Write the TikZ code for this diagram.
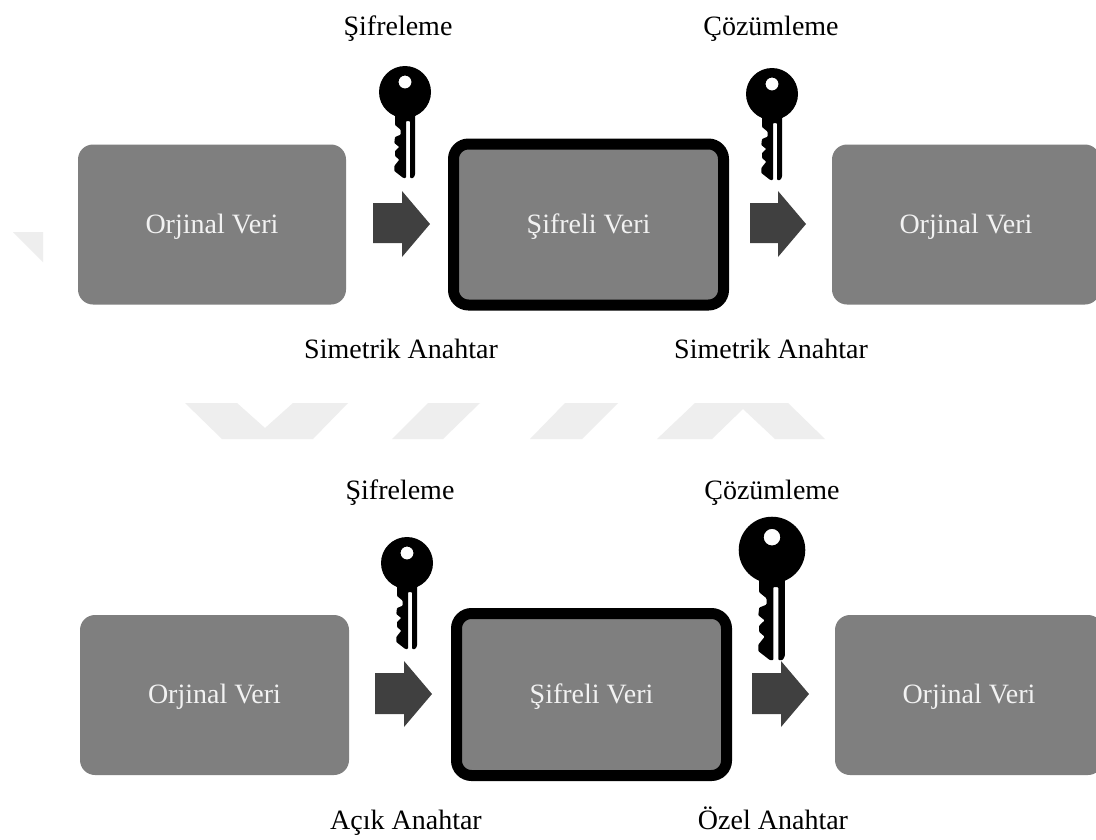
\documentclass[tikz,border=0pt]{standalone}
\usepackage{fontspec}
\setmainfont{Liberation Serif}
\definecolor{boxgrey}{HTML}{7F7F7F}
\definecolor{arrowgrey}{HTML}{404040}
\definecolor{markgrey}{HTML}{EEEEEE}
\definecolor{boxtext}{HTML}{F2F2F2}
\tikzset{
  x=1pt,y=-1pt,
  plainbox/.style={fill=boxgrey,rounded corners=15pt,inner sep=0pt,text=boxtext,
    font=\fontsize{28}{30}\selectfont,text height=23pt,text depth=6pt,align=center},
  framedbox/.style={plainbox,draw=black,line width=11pt},
  caption/.style={anchor=base,inner sep=0pt,text=black,font=\fontsize{28}{30}\selectfont},
  blockarrow/.style={fill=arrowgrey},
  faintmark/.style={fill=markgrey},
  keyshape/.pic={
    \fill[black,even odd rule] (0,0) circle[radius=26] (0,-10) circle[radius=6.5];
    \fill[black,rounded corners=0.8pt]
      (-10,20) -- (-10,33) -- (-4.3,37.7) -- (-4.3,42.7) -- (-10,45) -- (-10.7,51)
      -- (-5.7,55) -- (-10,59) -- (-10,64) -- (-5.7,67.7) -- (-10.7,74) -- (-10.7,79)
      -- (-1.7,86) -- (1,86) -- (1,29) -- (5,29) -- (5,86) -- (8.3,86) -- (10,83)
      -- (10,20) -- cycle;
  }
}
\begin{document}
\begin{tikzpicture}
\useasboundingbox (0,0) rectangle (1096,839);
\fill[white] (0,0) rectangle (1096,839);
% faint background marks
\fill[faintmark] (13,232) -- (43,232) -- (43,262) -- cycle;
\fill[faintmark] (185,403) -- (237,403) -- (265,428) -- (293,403) -- (348,403) -- (313,439) -- (222,439) -- cycle;
\fill[faintmark] (428,403) -- (480,403) -- (443,439) -- (392,439) -- cycle;
\fill[faintmark] (565,403) -- (618,403) -- (582,439) -- (530,439) -- cycle;
\fill[faintmark] (695,403) -- (788,403) -- (825,439) -- (775,439) -- (743,409) -- (712,439) -- (657,439) -- cycle;
% top row
\node[plainbox,minimum width=268pt,minimum height=160pt] (a1) at (212,224.5) {Orjinal Veri};
\node[framedbox,minimum width=270pt,minimum height=161pt] (b1) at (588.5,224.5) {Şifreli Veri};
\node[plainbox,minimum width=268pt,minimum height=160pt] (c1) at (966,224.5) {Orjinal Veri};
% bottom row
\node[plainbox,minimum width=269pt,minimum height=160pt] (a2) at (214.5,695) {Orjinal Veri};
\node[framedbox,minimum width=270pt,minimum height=162pt] (b2) at (591.5,694.5) {Şifreli Veri};
\node[plainbox,minimum width=268pt,minimum height=160pt] (c2) at (969,695) {Orjinal Veri};
% block arrows
\fill[blockarrow] (373,203) -- (402,203) -- (402,191) -- (430,224) -- (402,257) -- (402,243) -- (373,243) -- cycle;
\fill[blockarrow] (750,203) -- (778,203) -- (778,191) -- (806,224) -- (778,257) -- (778,243) -- (750,243) -- cycle;
\fill[blockarrow] (375,673) -- (404,673) -- (404,661) -- (432,694) -- (404,727) -- (404,714) -- (375,714) -- cycle;
\fill[blockarrow] (752,673) -- (781,673) -- (781,661) -- (809,694) -- (781,727) -- (781,714) -- (752,714) -- cycle;
% keys
\pic at (405,92) {keyshape};
\pic at (772,94) {keyshape};
\pic at (407,563) {keyshape};
\pic[scale=1.28] at (772,550) {keyshape};
% captions
\node[caption] (t1) at (398,35) {Şifreleme};
\node[caption] (t2) at (771,35) {Çözümleme};
\node[caption] (t3) at (401,358) {Simetrik Anahtar};
\node[caption] (t4) at (771,358) {Simetrik Anahtar};
\node[caption] (t5) at (400,499) {Şifreleme};
\node[caption] (t6) at (772,499) {Çözümleme};
\node[caption] (t7) at (406,829) {Açık Anahtar};
\node[caption] (t8) at (773,829) {Özel Anahtar};
\end{tikzpicture}
\end{document}
